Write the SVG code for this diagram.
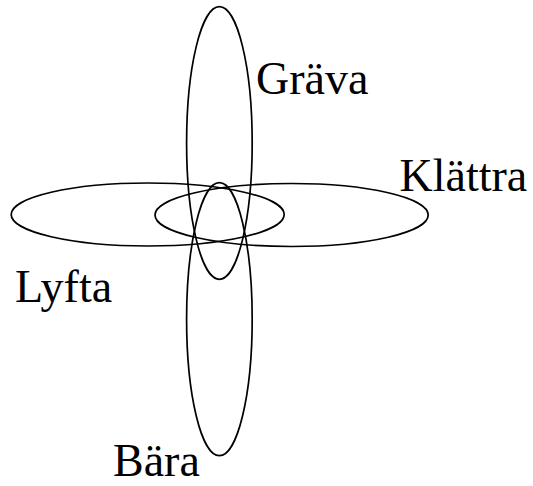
<svg xmlns="http://www.w3.org/2000/svg" width="533" height="486" viewBox="0 0 533 486">
<style>
  .e { fill: none; stroke: #000; stroke-width: 1.7; }
  .t { font-family: "Liberation Serif", "Times New Roman", serif; font-size: 46px; fill: #000; }
</style>
<rect width="533" height="486" fill="#fff"/>
<g id="grava">
  <ellipse class="e" cx="219.4" cy="143" rx="32.8" ry="136.3"/>
  <text class="t" x="256" y="93.5">Gräva</text>
</g>
<g id="bara">
  <ellipse class="e" cx="219.4" cy="319.2" rx="32.8" ry="136.5"/>
  <text class="t" x="113" y="475.5">Bära</text>
</g>
<g id="lyfta">
  <ellipse class="e" cx="147.7" cy="214.5" rx="136.5" ry="31.5"/>
  <text class="t" x="15" y="301.5">Lyfta</text>
</g>
<g id="klattra">
  <ellipse class="e" cx="291.6" cy="215" rx="136.6" ry="31.5"/>
  <text class="t" x="399.5" y="190.7">Klättra</text>
</g>
<g id="connectors"></g>
</svg>
